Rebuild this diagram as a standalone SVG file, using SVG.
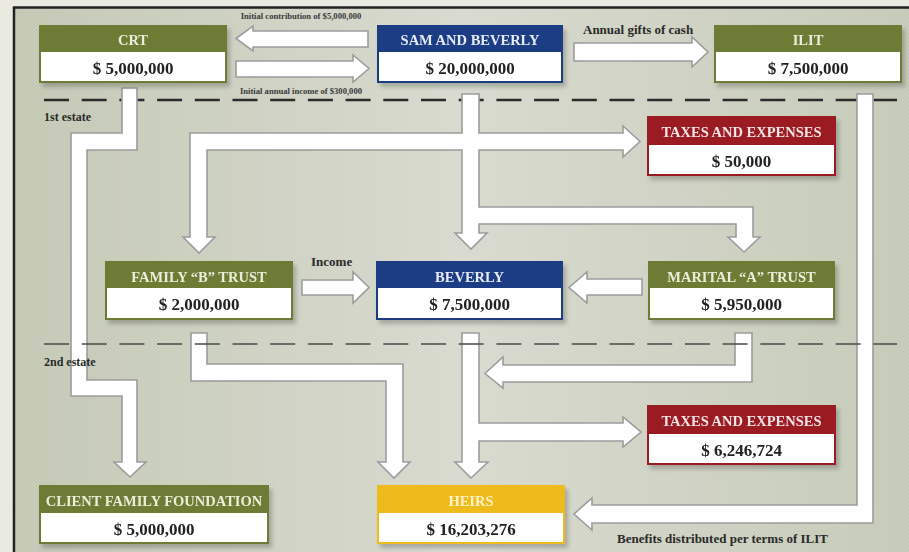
<svg xmlns="http://www.w3.org/2000/svg" width="909" height="552" viewBox="0 0 909 552">
<defs>
<linearGradient id="panelGrad" x1="0" y1="0" x2="1" y2="0">
<stop offset="0" stop-color="#c2c7b2"/>
<stop offset="0.5" stop-color="#d6d9cc"/>
<stop offset="1" stop-color="#c4c9b5"/>
</linearGradient>
<pattern id="hatch" width="4" height="4" patternUnits="userSpaceOnUse">
<path d="M0,4 L4,0 M0,0 L4,4" stroke="#ffffff" stroke-opacity="0.12" stroke-width="0.8"/>
</pattern>
<filter id="shadow" x="-10%" y="-10%" width="130%" height="140%">
<feDropShadow dx="3" dy="4" stdDeviation="2" flood-color="#000" flood-opacity="0.22"/>
</filter>
</defs>
<style>
.ht{font-family:"Liberation Serif","Times New Roman",serif;font-weight:bold;font-size:14.5px;text-anchor:middle}
.vt{font-family:"Liberation Serif","Times New Roman",serif;font-weight:bold;font-size:17px;text-anchor:middle;fill:#222}
.val{fill:#ffffff}
.green .hdr{fill:#6c7b34}
.green .ht{fill:#ebedd8}
.blue .hdr{fill:#1e3d84}
.blue .ht{fill:#e6eaf4}
.red .hdr{fill:#9a1a22}
.red .ht{fill:#f5e4e4}
.yellow .hdr{fill:#efbb1d}
.yellow .ht{fill:#fdf3c6}
.node{filter:url(#shadow)}
.arrow{fill:#ffffff;stroke:#9c9c9c;stroke-width:1.6;stroke-linejoin:miter}
.lbl{font-family:"Liberation Serif","Times New Roman",serif;font-weight:bold;font-size:13px;fill:#2a2a2a}
.small{font-family:"Liberation Serif","Times New Roman",serif;font-weight:bold;font-size:8.6px;fill:#3a3a3a;text-anchor:middle}
.dash1{stroke:#2b2b2b;stroke-width:2.6;stroke-dasharray:25 12.7;fill:none}
.dash2{stroke:#4a4a4a;stroke-width:1.5;stroke-dasharray:25 12.7;fill:none}
</style>
<rect x="0" y="0" width="909" height="552" fill="#ebeae1"/>
<rect x="14" y="7.5" width="900" height="550" fill="url(#panelGrad)" stroke="#222" stroke-width="2.5"/>
<rect x="15" y="9" width="894" height="543" fill="url(#hatch)"/>

<line class="dash1" x1="44" y1="100" x2="897" y2="100"/>
<text class="lbl" x="44" y="121" style="font-size:12px">1st estate</text>

<g id="connectors">
<polygon class="arrow" points="236,38.5 253,26 253,31 368,31 368,47 253,47 253,51"/>
<polygon class="arrow" points="236,61 353,61 353,55 369,68.5 353,82 353,77 236,77"/>
<polygon class="arrow" points="574,43 692,43 692,37 708,52 692,67 692,61 574,61"/>
<polygon class="arrow" points="302,280 353,280 353,272 369,287.5 353,303 353,295 302,295"/>
<polygon class="arrow" points="569,287.5 587,272 587,279 642,279 642,295 587,295 587,303"/>
<polygon class="arrow" points="122,88 137,88 137,150 87,150 87,380 137,380 137,462 146,462 130,477 114,462 122,462 122,396 71,396 71,133 122,133"/>
<polygon class="arrow" points="462,94 479,94 479,133 623,133 623,126 640,141.5 623,157 623,150 479,150 479,207 753,207 753,237 760,237 744,252 728,237 736,237 736,224 479,224 479,233 487,233 471,249 455,233 462,233 462,150 207,150 207,237 215,237 199,253 183,237 190,237 190,133 462,133"/>
<polygon class="arrow" points="191,333 207,333 207,364 403,364 403,462 410,462 394,478 378,462 386,462 386,381 191,381"/>
<polygon class="arrow" points="462,333 479,333 479,423 623,423 623,417 641,432 623,447 623,441 479,441 479,462 488,462 471,478 455,462 462,462"/>
<polygon class="arrow" points="735,333 752,333 752,382 503,382 503,388 485,373.5 503,357 503,365 735,365"/>
<polygon class="arrow" points="857,94 873,94 873,523 592,523 592,530 574,514 592,498 592,505 857,505"/>
</g>

<line class="dash2" x1="44" y1="344" x2="897" y2="344"/>
<text class="lbl" x="44" y="366" style="font-size:12px">2nd estate</text>

<text class="small" x="301" y="19">Initial contribution of $5,000,000</text>
<text class="small" x="301" y="94">Initial annual income of $300,000</text>
<text class="lbl" x="583" y="34">Annual gifts of cash</text>
<text class="lbl" x="311" y="266">Income</text>
<text class="lbl" x="617" y="543">Benefits distributed per terms of  ILIT</text>

<g id="crt" class="node green">
<rect class="hdr" x="39" y="25" width="188" height="58"/>
<rect class="val" x="41" y="52" width="184" height="29"/>
<text class="ht" x="133" y="45">CRT</text>
<text class="vt" x="133" y="74">$ 5,000,000</text>
</g>
<g id="sam-and-beverly" class="node blue">
<rect class="hdr" x="377" y="25" width="186" height="58"/>
<rect class="val" x="379" y="52" width="182" height="29"/>
<text class="ht" x="470" y="45">SAM AND BEVERLY</text>
<text class="vt" x="470" y="74">$ 20,000,000</text>
</g>
<g id="ilit" class="node green">
<rect class="hdr" x="714" y="25" width="188" height="58"/>
<rect class="val" x="716" y="52" width="184" height="29"/>
<text class="ht" x="808" y="45">ILIT</text>
<text class="vt" x="808" y="74">$ 7,500,000</text>
</g>
<g id="taxes-1" class="node red">
<rect class="hdr" x="647" y="116" width="189" height="60"/>
<rect class="val" x="649" y="145" width="185" height="29"/>
<text class="ht" x="741.5" y="137">TAXES AND EXPENSES</text>
<text class="vt" x="741.5" y="167">$ 50,000</text>
</g>
<g id="family-b-trust" class="node green">
<rect class="hdr" x="105" y="261" width="188" height="59"/>
<rect class="val" x="107" y="288" width="184" height="30"/>
<text class="ht" x="199" y="282">FAMILY “B” TRUST</text>
<text class="vt" x="199" y="310">$ 2,000,000</text>
</g>
<g id="beverly" class="node blue">
<rect class="hdr" x="376" y="261" width="187" height="59"/>
<rect class="val" x="378" y="288" width="183" height="30"/>
<text class="ht" x="469.5" y="282">BEVERLY</text>
<text class="vt" x="469.5" y="310">$ 7,500,000</text>
</g>
<g id="marital-a-trust" class="node green">
<rect class="hdr" x="648" y="261" width="187" height="59"/>
<rect class="val" x="650" y="288" width="183" height="30"/>
<text class="ht" x="741.5" y="282">MARITAL “A” TRUST</text>
<text class="vt" x="741.5" y="310">$ 5,950,000</text>
</g>
<g id="taxes-2" class="node red">
<rect class="hdr" x="647" y="405" width="189" height="60"/>
<rect class="val" x="649" y="434" width="185" height="29"/>
<text class="ht" x="741.5" y="426">TAXES AND EXPENSES</text>
<text class="vt" x="741.5" y="456">$ 6,246,724</text>
</g>
<g id="client-family-foundation" class="node green">
<rect class="hdr" x="39" y="485" width="230" height="59"/>
<rect class="val" x="41" y="513" width="226" height="29"/>
<text class="ht" x="154" y="506">CLIENT FAMILY FOUNDATION</text>
<text class="vt" x="154" y="535">$ 5,000,000</text>
</g>
<g id="heirs" class="node yellow">
<rect class="hdr" x="377" y="485" width="188" height="59"/>
<rect class="val" x="379" y="513" width="184" height="29"/>
<text class="ht" x="471" y="506">HEIRS</text>
<text class="vt" x="471" y="535">$ 16,203,276</text>
</g>
</svg>
